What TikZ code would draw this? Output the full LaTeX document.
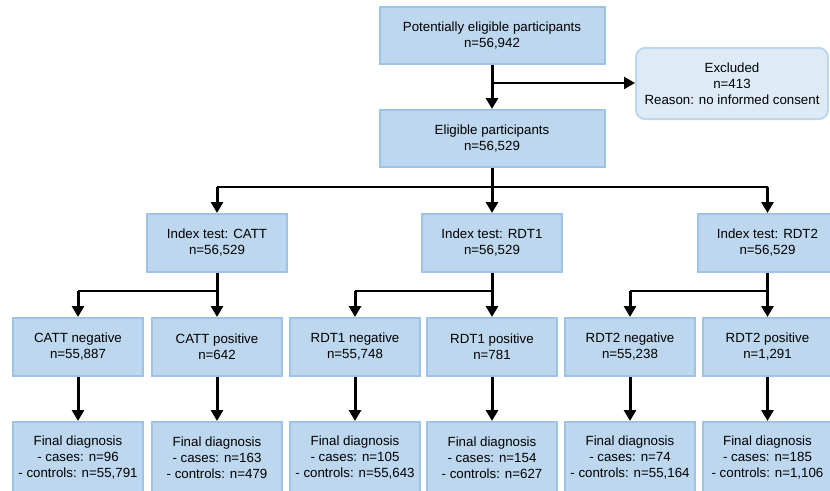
\documentclass[tikz,border=0pt]{standalone}
\usepackage{fontspec}
\setmainfont{Liberation Sans}
\usetikzlibrary{arrows.meta}
\definecolor{boxfill}{RGB}{189,215,238}
\definecolor{boxline}{RGB}{157,195,230}
\definecolor{exfill}{RGB}{222,235,247}
\definecolor{exline}{RGB}{189,215,238}
\tikzset{
  flowbox/.style={draw=boxline, fill=boxfill, line width=2pt, rectangle, align=center,
    inner sep=2pt, font=\fontsize{13.3}{16}\selectfont},
  exbox/.style={draw=exline, fill=exfill, line width=2pt, rectangle, rounded corners=9pt,
    align=center, inner sep=2pt, font=\fontsize{13.3}{16}\selectfont,
    minimum width=192pt, minimum height=71pt},
  wide/.style={flowbox, minimum width=225pt, minimum height=57pt},
  idx/.style={flowbox, minimum width=140pt, minimum height=58pt},
  res/.style={flowbox, minimum width=130pt, minimum height=58pt},
  fin/.style={flowbox, minimum width=130pt, minimum height=72pt},
  thickarrow/.style={line width=3pt, -{Triangle[length=11pt,width=12pt]}},
  thinline/.style={line width=1.3pt},
}
\begin{document}
\begin{tikzpicture}[x=1pt,y=-1pt]
\useasboundingbox (0,0) rectangle (830,490);
\clip (0,0) rectangle (830,490);
% top
\node[wide] (top) at (492,35.5) {Potentially eligible participants\\n=56,942};
\node[exbox] (excl) at (732,83.5) {Excluded\\n=413\\Reason: no informed consent};
\node[wide] (elig) at (492,138.5) {Eligible participants\\n=56,529};
% index tests
\node[idx] (catt) at (217,243) {Index test: CATT\\n=56,529};
\node[idx] (rdt1) at (492,243) {Index test: RDT1\\n=56,529};
\node[idx] (rdt2) at (767.5,243) {Index test: RDT2\\n=56,529};
% results
\node[res] (cattN) at (78,347) {CATT negative\\n=55,887};
\node[res] (cattP) at (217,347) {CATT positive\\n=642};
\node[res] (rdt1N) at (355,347) {RDT1 negative\\n=55,748};
\node[res] (rdt1P) at (492,347) {RDT1 positive\\n=781};
\node[res] (rdt2N) at (630,347) {RDT2 negative\\n=55,238};
\node[res] (rdt2P) at (767.5,347) {RDT2 positive\\n=1,291};
% final diagnosis
\node[fin] (cattNF) at (78,458) {Final diagnosis\\- cases: n=96\\- controls: n=55,791};
\node[fin] (cattPF) at (217,458) {Final diagnosis\\- cases: n=163\\- controls: n=479};
\node[fin] (rdt1NF) at (355,458) {Final diagnosis\\- cases: n=105\\- controls: n=55,643};
\node[fin] (rdt1PF) at (492,458) {Final diagnosis\\- cases: n=154\\- controls: n=627};
\node[fin] (rdt2NF) at (630,458) {Final diagnosis\\- cases: n=74\\- controls: n=55,164};
\node[fin] (rdt2PF) at (767.5,458) {Final diagnosis\\- cases: n=185\\- controls: n=1,106};
% connectors top
\coordinate (ex) at (492,83);
\draw[thickarrow] (top.south) -- (elig.north);
\draw[line width=2.4pt, -{Triangle[length=11pt,width=12pt]}] (ex) -- (excl.west |- ex);
% eligible to index tests
\coordinate (b1) at (492,187);
\draw[thinline] (catt.north |- b1) -- (rdt2.north |- b1);
\draw[thickarrow] (elig.south) -- (rdt1.north);
\draw[thickarrow] (catt.north |- b1) -- (catt.north);
\draw[thickarrow] (rdt2.north |- b1) -- (rdt2.north);
% index to results
\coordinate (b2) at (0,291);
\foreach \ix/\ng/\ps in {catt/cattN/cattP, rdt1/rdt1N/rdt1P, rdt2/rdt2N/rdt2P}{
  \draw[thinline] (\ng.north |- b2) -- (\ix.south |- b2);
  \draw[thickarrow] (\ix.south) -- (\ps.north);
  \draw[thickarrow] (\ng.north |- b2) -- (\ng.north);
}
% results to final
\foreach \rs in {cattN, cattP, rdt1N, rdt1P, rdt2N, rdt2P}{
  \draw[thickarrow] (\rs.south) -- (\rs F.north);
}
\end{tikzpicture}
\end{document}
